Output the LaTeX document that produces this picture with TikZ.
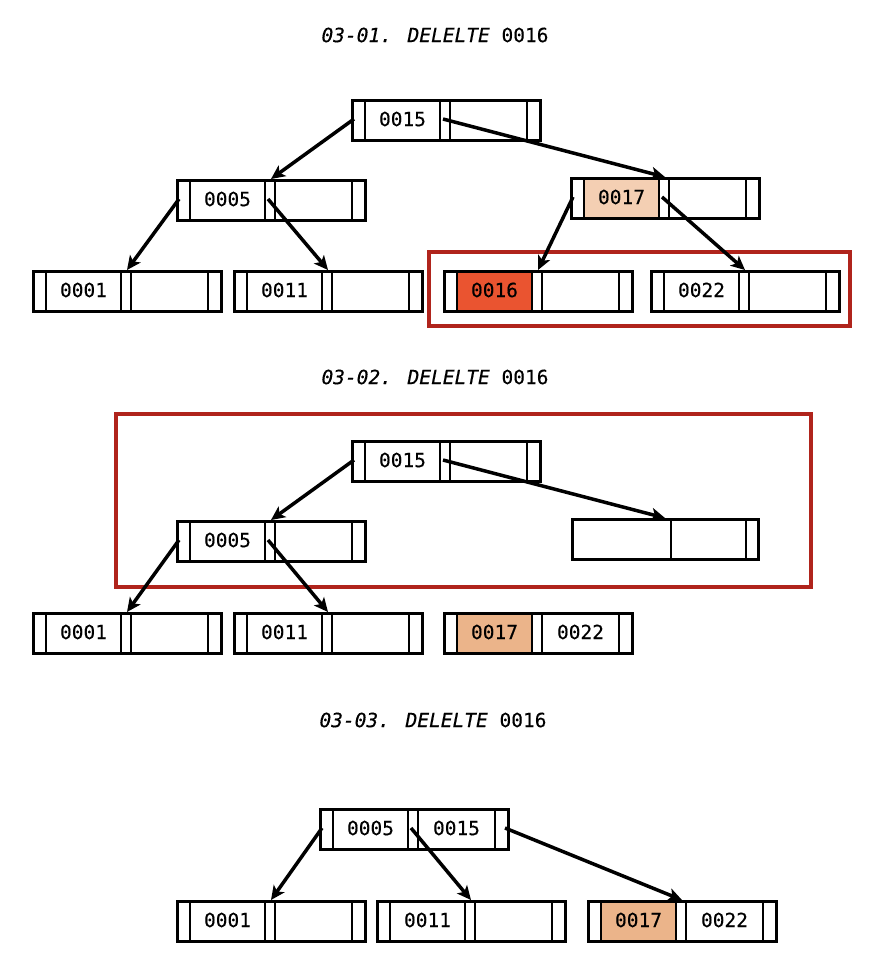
\documentclass[tikz,border=0pt]{standalone}
\usepackage{fontspec}
\newfontfamily\mono[FakeBold=0.35]{DejaVu Sans Mono}
\usetikzlibrary{arrows.meta}
\definecolor{peachA}{HTML}{F4CFB3}
\definecolor{hotred}{HTML}{EA5430}
\definecolor{tanA}{HTML}{EBB48A}
\definecolor{frameRed}{HTML}{B0241C}
\tikzset{
  btbox/.style={draw, line width=3.4pt, minimum width=188pt, minimum height=40pt, inner sep=0pt, anchor=north west},
  thinln/.style={line width=1.3pt},
  ptrln/.style={line width=2pt},
  keytxt/.style={font=\mono\fontsize{19.5}{22}\selectfont, inner sep=0pt},
  ttl/.style={font=\mono\fontsize{19.5}{22}\selectfont, inner sep=0pt},
  arr/.style={line width=3.5pt, -{Stealth[length=14pt,width=13pt,inset=3.5pt]}},
  frame/.style={draw=frameRed, line width=3.2pt},
}
\newcommand\btn[7]{%
  \fill[#6] (#2+14,#3) rectangle (#2+89,#3+40);
  \fill[#7] (#2+99,#3) rectangle (#2+176,#3+40);
  \node[btbox] (#1) at (#2,#3) {};
  \draw[thinln] (#2+14,#3) -- (#2+14,#3+40);
  \draw[thinln] (#2+89,#3) -- (#2+89,#3+40);
  \draw[ptrln] (#2+99,#3) -- (#2+99,#3+40);
  \draw[thinln] (#2+176,#3) -- (#2+176,#3+40);
  \node[keytxt] (#1a) at (#2+51.5,#3+20) {#4};
  \node[keytxt] (#1b) at (#2+137.5,#3+20) {#5};
  \coordinate (#1p0) at (#2+3,#3+20);
  \coordinate (#1p1) at (#2+92,#3+20);
  \coordinate (#1p2) at (#2+186,#3+20);
  \coordinate (#1t) at (#2+95,#3);
}
\begin{document}
\begin{tikzpicture}[x=1pt,y=-1pt]
\useasboundingbox (0,0) rectangle (882,956);
\fill[white] (0,0) rectangle (882,956);

% ---------- panel 1 ----------
\node[ttl] (t1) at (435,35) {\itshape 03-01. DELELTE\upshape{} 0016};
\draw[frame] (429,252) rectangle (850,326);
\btn{ra}{351}{99}{0015}{}{white}{white}
\btn{la}{176}{179}{0005}{}{white}{white}
\btn{ma}{570}{177}{0017}{}{peachA}{white}
\btn{aa}{32}{270}{0001}{}{white}{white}
\btn{ba}{233}{270}{0011}{}{white}{white}
\btn{ca}{443}{270}{0016}{}{hotred}{white}
\btn{da}{650}{270}{0022}{}{white}{white}
\draw[arr] (rap0) -- (lat);
\draw[arr] (rap1) -- (mat);
\draw[arr] (lap0) -- (aat);
\draw[arr] (lap1) -- (bat);
\draw[arr] (map0) -- (cat);
\draw[arr] (map1) -- (dat);

% ---------- panel 2 ----------
\node[ttl] (t2) at (435,377) {\itshape 03-02. DELELTE\upshape{} 0016};
\draw[frame] (116,414) rectangle (811,587);
\btn{rb}{351}{440}{0015}{}{white}{white}
\btn{lb}{176}{520}{0005}{}{white}{white}
\node[btbox, minimum width=186pt] (eb) at (571,518) {};
\draw[ptrln] (671,518) -- (671,558);
\draw[thinln] (746,518) -- (746,558);
\coordinate (ebt) at (665,518);
\btn{ab}{32}{612}{0001}{}{white}{white}
\btn{bb}{233}{612}{0011}{}{white}{white}
\btn{cb}{443}{612}{0017}{0022}{tanA}{white}
\draw[arr] (rbp0) -- (lbt);
\draw[arr] (rbp1) -- (ebt);
\draw[arr] (lbp0) -- (abt);
\draw[arr] (lbp1) -- (bbt);

% ---------- panel 3 ----------
\node[ttl] (t3) at (433,720) {\itshape 03-03. DELELTE\upshape{} 0016};
\btn{rc}{319}{808}{0005}{0015}{white}{white}
\btn{ac}{176}{900}{0001}{}{white}{white}
\btn{bc}{376}{900}{0011}{}{white}{white}
\btn{cc}{587}{900}{0017}{0022}{tanA}{white}
\draw[arr] (rcp0) -- (act);
\draw[arr] (rcp1) -- (bct);
\draw[arr] (rcp2) -- (cct);
\end{tikzpicture}
\end{document}
